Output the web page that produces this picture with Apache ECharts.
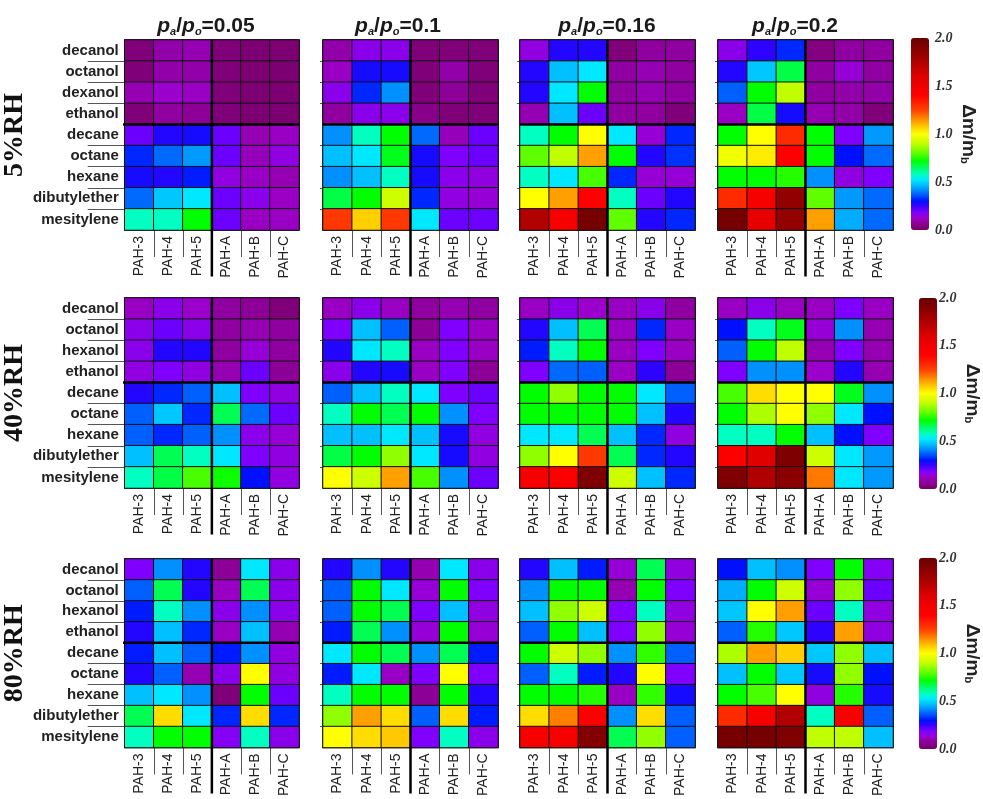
<!DOCTYPE html>
<html><head><meta charset="utf-8">
<script src="https://cdn.jsdelivr.net/npm/echarts@6/dist/echarts.min.js"></script>
<style>html,body{margin:0;padding:0;background:#fff}#c{width:983px;height:799px}</style>
</head><body><div id="c"></div>
<script>
// ---------- categories ----------
const pahLinear = ['PAH-3', 'PAH-4', 'PAH-5'];
const pahBranched = ['PAH-A', 'PAH-B', 'PAH-C'];
const alcohols5 = ['decanol', 'octanol', 'dexanol', 'ethanol'];
const alcohols = ['decanol', 'octanol', 'hexanol', 'ethanol'];
const others = ['decane', 'octane', 'hexane', 'dibutylether', 'mesitylene'];
const humidity = ['5%RH', '40%RH', '80%RH'];
const pressure = ['0.05', '0.1', '0.16', '0.2'];
const colorTicks = [0, 0.5, 1.0, 1.5, 2.0];

// ---------- values (rows: solvents, cols: PAH-3..PAH-C) ----------
const rh5_p005 = [
  [0.03,0.09,0.10,0.03,0.02,0.02],
  [0.03,0.09,0.09,0.03,0.02,0.02],
  [0.10,0.13,0.12,0.03,0.02,0.02],
  [0.03,0.08,0.07,0.03,0.02,0.02],
  [0.20,0.27,0.28,0.20,0.10,0.12],
  [0.32,0.38,0.43,0.20,0.11,0.15],
  [0.28,0.27,0.31,0.15,0.12,0.10],
  [0.38,0.48,0.52,0.20,0.16,0.12],
  [0.58,0.58,0.72,0.20,0.12,0.12]];
const rh5_p01 = [
  [0.09,0.16,0.16,0.03,0.03,0.03],
  [0.12,0.28,0.28,0.03,0.09,0.03],
  [0.16,0.32,0.42,0.03,0.07,0.03],
  [0.08,0.16,0.16,0.05,0.03,0.03],
  [0.42,0.58,0.72,0.38,0.11,0.20],
  [0.47,0.52,0.70,0.28,0.18,0.20],
  [0.42,0.47,0.58,0.28,0.16,0.15],
  [0.67,0.72,0.92,0.32,0.15,0.14],
  [1.27,1.07,1.27,0.52,0.20,0.20]];
const rh5_p016 = [
  [0.15,0.27,0.27,0.03,0.08,0.08],
  [0.27,0.47,0.52,0.08,0.10,0.08],
  [0.27,0.52,0.72,0.08,0.10,0.08],
  [0.10,0.47,0.20,0.08,0.08,0.03],
  [0.58,0.72,1.00,0.52,0.14,0.32],
  [0.80,0.90,1.13,0.72,0.27,0.33],
  [0.58,0.52,0.78,0.32,0.14,0.14],
  [1.00,1.13,1.40,0.58,0.20,0.27],
  [1.75,1.45,1.95,0.80,0.27,0.32]];
const rh5_p02 = [
  [0.16,0.26,0.32,0.04,0.08,0.08],
  [0.27,0.48,0.67,0.08,0.14,0.08],
  [0.37,0.72,0.90,0.08,0.09,0.09],
  [0.12,0.67,0.28,0.10,0.09,0.03],
  [0.72,1.00,1.30,0.72,0.18,0.43],
  [0.98,1.03,1.42,0.72,0.30,0.38],
  [0.72,0.72,0.75,0.42,0.15,0.18],
  [1.30,1.45,1.85,0.80,0.43,0.38],
  [1.95,1.55,1.85,1.13,0.45,0.38]];

const rh40_p005 = [
  [0.12,0.16,0.13,0.08,0.07,0.03],
  [0.16,0.20,0.16,0.08,0.10,0.08],
  [0.16,0.27,0.27,0.08,0.14,0.08],
  [0.15,0.18,0.15,0.10,0.20,0.07],
  [0.27,0.32,0.37,0.47,0.18,0.15],
  [0.37,0.48,0.32,0.66,0.38,0.20],
  [0.37,0.32,0.37,0.42,0.16,0.14],
  [0.47,0.66,0.58,0.52,0.18,0.15],
  [0.58,0.67,0.78,0.73,0.30,0.15]];
const rh40_p01 = [
  [0.12,0.16,0.12,0.08,0.10,0.08],
  [0.18,0.47,0.37,0.07,0.18,0.12],
  [0.27,0.52,0.58,0.12,0.18,0.12],
  [0.16,0.27,0.28,0.12,0.18,0.07],
  [0.37,0.47,0.58,0.52,0.18,0.20],
  [0.58,0.72,0.66,0.72,0.42,0.18],
  [0.47,0.47,0.52,0.47,0.28,0.15],
  [0.67,0.72,0.85,0.52,0.28,0.15],
  [1.00,0.92,1.13,0.78,0.42,0.20]];
const rh40_p016 = [
  [0.12,0.16,0.13,0.12,0.16,0.08],
  [0.27,0.47,0.66,0.12,0.32,0.12],
  [0.31,0.58,0.72,0.12,0.18,0.12],
  [0.18,0.38,0.37,0.12,0.26,0.07],
  [0.72,0.85,0.72,0.72,0.52,0.37],
  [0.72,0.72,0.72,0.72,0.47,0.27],
  [0.52,0.52,0.66,0.47,0.32,0.15],
  [0.85,1.00,1.27,0.66,0.32,0.27],
  [1.45,1.42,1.92,0.92,0.47,0.32]];
const rh40_p02 = [
  [0.12,0.16,0.12,0.12,0.18,0.12],
  [0.30,0.58,0.70,0.14,0.42,0.10],
  [0.37,0.72,0.90,0.10,0.18,0.10],
  [0.18,0.42,0.42,0.13,0.27,0.10],
  [0.78,1.05,1.00,1.00,0.70,0.42],
  [0.72,0.88,1.00,0.85,0.52,0.30],
  [0.58,0.58,0.72,0.47,0.30,0.18],
  [1.42,1.60,1.92,0.92,0.52,0.43],
  [1.92,1.75,1.88,1.18,0.52,0.43]];

const rh80_p005 = [
  [0.18,0.42,0.27,0.07,0.52,0.16],
  [0.37,0.66,0.27,0.12,0.66,0.16],
  [0.31,0.58,0.42,0.16,0.42,0.16],
  [0.27,0.47,0.32,0.12,0.47,0.10],
  [0.31,0.47,0.37,0.31,0.42,0.15],
  [0.27,0.37,0.10,0.16,1.00,0.15],
  [0.47,0.52,0.42,0.03,0.72,0.20],
  [0.66,1.05,0.52,0.32,1.05,0.32],
  [0.58,0.72,0.72,0.17,0.58,0.16]];
const rh80_p01 = [
  [0.27,0.42,0.27,0.10,0.52,0.16],
  [0.37,0.72,0.52,0.14,0.72,0.18],
  [0.37,0.72,0.66,0.18,0.47,0.15],
  [0.31,0.66,0.42,0.14,0.72,0.14],
  [0.52,0.72,0.66,0.42,0.66,0.31],
  [0.31,0.52,0.12,0.18,1.00,0.18],
  [0.58,0.72,0.72,0.07,0.72,0.27],
  [0.85,1.13,1.05,0.37,1.05,0.31],
  [1.00,1.05,1.08,0.18,0.58,0.16]];
const rh80_p016 = [
  [0.27,0.47,0.31,0.14,0.66,0.15],
  [0.42,0.72,0.72,0.10,0.72,0.18],
  [0.47,0.85,0.92,0.18,0.58,0.15],
  [0.37,0.72,0.47,0.18,0.85,0.14],
  [0.72,0.92,0.85,0.42,0.76,0.37],
  [0.37,0.58,0.31,0.27,1.00,0.18],
  [0.72,0.72,0.75,0.12,0.76,0.28],
  [1.05,1.17,1.42,0.42,1.05,0.37],
  [1.45,1.45,1.90,0.66,0.85,0.37]];
const rh80_p02 = [
  [0.30,0.47,0.42,0.18,0.72,0.17],
  [0.45,0.72,0.92,0.14,0.85,0.20],
  [0.48,1.00,1.13,0.20,0.58,0.15],
  [0.37,0.75,0.48,0.26,1.13,0.15],
  [0.88,1.13,1.07,0.48,0.85,0.47],
  [0.47,0.72,0.48,0.28,0.85,0.30],
  [0.72,0.78,1.00,0.15,0.75,0.28],
  [1.30,1.45,1.75,0.58,1.45,0.37],
  [1.95,1.95,1.92,0.90,0.90,0.47]];

const matrices = [
  [rh5_p005, rh5_p01, rh5_p016, rh5_p02],
  [rh40_p005, rh40_p01, rh40_p016, rh40_p02],
  [rh80_p005, rh80_p01, rh80_p016, rh80_p02]];

// ---------- colour map (style) ----------
const cmapStops = [[0.00,'#760062'],[0.08,'#9000a0'],[0.13,'#9c00cc'],[0.18,'#8000ff'],[0.25,'#3800ff'],
  [0.30,'#0010ff'],[0.37,'#0060ff'],[0.42,'#0090ff'],[0.47,'#00c0ff'],[0.52,'#00e8ff'],[0.58,'#00ffc0'],
  [0.65,'#00ff60'],[0.72,'#00ff00'],[0.80,'#60ff00'],[0.90,'#c0ff00'],[1.00,'#ffff00'],[1.07,'#ffd000'],
  [1.13,'#ffa000'],[1.25,'#ff4000'],[1.40,'#ff0000'],[1.60,'#e00000'],[1.80,'#a00000'],[2.00,'#680000']];
function hex2rgb(h){return [parseInt(h.substr(1,2),16),parseInt(h.substr(3,2),16),parseInt(h.substr(5,2),16)];}
function cmapAt(v){
  for (let i=1;i<cmapStops.length;i++){
    if (v<=cmapStops[i][0]+1e-9){
      const a=cmapStops[i-1], b=cmapStops[i], t=(v-a[0])/(b[0]-a[0]);
      const ca=hex2rgb(a[1]), cb=hex2rgb(b[1]);
      return 'rgb('+ca.map((x,k)=>Math.round(x+(cb[k]-x)*t)).join(',')+')';
    }
  }
  return cmapStops[cmapStops.length-1][1];
}
const cmap=[]; for(let i=0;i<=200;i++) cmap.push(cmapAt(i/100));

// ---------- layout (style) ----------
const GL=[124,323,520,718], GT=[40,298,559], GW=175, GH=190;
const CBL=[911,919,919], CBT=[38,298,558], CBW=18, CBH=[192,191,191];
const TCX=[206,398,607,795];

const pahs = pahLinear.concat(pahBranched);
const solventsByRow = [alcohols5.concat(others), alcohols.concat(others), alcohols.concat(others)];

const grid=[], xAxis=[], yAxis=[], series=[], visualMap=[], title=[];
const heatIdx=[[],[],[]];
const labFont='Liberation Sans';

for (let r=0;r<3;r++){
  const solv = solventsByRow[r];
  for (let c=0;c<4;c++){
    const g=r*4+c, m=matrices[r][c];
    grid.push({left:GL[c], top:GT[r], width:GW, height:GH, show:true, borderColor:'#000', borderWidth:1.5, backgroundColor:'transparent'});
    xAxis.push({type:'category', gridIndex:g, data:pahs, position:'bottom',
      axisLine:{show:false}, axisTick:{show:false}, splitLine:{show:false},
      axisLabel:{interval:0, rotate:90, margin:6, fontSize:14, color:'#222', fontFamily:labFont}});
    const xb=[]; for(let i=1;i<pahs.length;i++) if(i!==pahLinear.length) xb.push(i);
    xAxis.push({type:'value', gridIndex:g, min:0, max:pahs.length, interval:1, position:'bottom',
      axisLine:{show:false}, axisLabel:{show:false}, splitLine:{show:false},
      axisTick:{show:true, customValues:xb, length:27, lineStyle:{color:'#555', width:1}}});
    yAxis.push({type:'category', gridIndex:g, data:solv, inverse:true, position:'left',
      axisLine:{show:false}, axisTick:{show:false}, splitLine:{show:false},
      axisLabel:{show:c===0, interval:0, margin:6, fontSize:15, fontWeight:'bold', color:'#222', fontFamily:labFont},
      name: c===0 ? humidity[r] : '', nameLocation:'middle', nameRotate:90, nameGap:79,
      nameTextStyle:{fontFamily:'Liberation Serif', fontWeight:'bold', fontSize:28, color:'#111'}});
    const yb=[]; for(let i=1;i<solv.length;i++) if(i!==alcohols.length) yb.push(i);
    yAxis.push({type:'value', gridIndex:g, min:0, max:solv.length, interval:1, inverse:true, position:'left',
      axisLine:{show:false}, axisLabel:{show:false}, splitLine:{show:false},
      axisTick:{show:true, customValues:yb, length: c===0?37:3, lineStyle:{color:'#555', width:1}}});
    const data=[];
    for (let yi=0;yi<solv.length;yi++) for (let xi=0;xi<pahs.length;xi++) data.push([xi, yi, m[yi][xi]]);
    heatIdx[r].push(series.length);
    series.push({type:'heatmap', xAxisIndex:2*g, yAxisIndex:2*g, data:data,
      itemStyle:{borderColor:'#111', borderWidth:1}, emphasis:{disabled:true}, silent:true, animation:false});
    // group dividers
    series.push({type:'line', xAxisIndex:2*g+1, yAxisIndex:2*g+1, clip:false, showSymbol:false, silent:true, animation:false, z:5,
      lineStyle:{color:'#000', width:2.5},
      data:[[pahLinear.length, 0],[pahLinear.length, solv.length+2.2]]});
    series.push({type:'line', xAxisIndex:2*g+1, yAxisIndex:2*g+1, clip:false, showSymbol:false, silent:true, animation:false, z:5,
      lineStyle:{color:'#000', width:2.5},
      data:[[c===0?-2.0:0, alcohols.length],[pahs.length, alcohols.length]]});
  }
}

// colour bars
for (let r=0;r<3;r++){
  const g=12+r;
  grid.push({left:CBL[r], top:CBT[r], width:CBW, height:CBH[r], show:false});
  xAxis.push({type:'value', gridIndex:g, show:false, min:0, max:1});
  yAxis.push({type:'value', gridIndex:g, min:colorTicks[0], max:colorTicks[colorTicks.length-1], interval:colorTicks[1]-colorTicks[0], position:'right',
    axisLine:{show:false}, axisTick:{show:false}, splitLine:{show:false},
    axisLabel:{formatter:v=>v.toFixed(1), margin:6, fontFamily:'Liberation Serif', fontStyle:'italic', fontWeight:'bold', fontSize:14, color:'#333'},
    name:'{m|Δm/m}{s|b}', nameLocation:'middle', nameRotate:-90, nameGap:30,
    nameTextStyle:{rich:{
      m:{fontFamily:labFont, fontWeight:'bold', fontSize:19, color:'#222', lineHeight:22, verticalAlign:'bottom'},
      s:{fontFamily:labFont, fontWeight:'bold', fontSize:11, color:'#222', lineHeight:12, verticalAlign:'bottom'}}}});
  visualMap.push({type:'continuous', min:0, max:2, seriesIndex:heatIdx[r], inRange:{color:cmap},
    left:CBL[r], top:CBT[r], itemWidth:CBW, itemHeight:CBH[r], orient:'vertical', calculable:false, padding:0,
    hoverLink:false, text:null, showLabel:false});
}

// column titles
const titleRich = {
  p:{fontFamily:labFont, fontSize:21, fontWeight:'bold', fontStyle:'italic', color:'#1a1a1a', lineHeight:24, verticalAlign:'bottom'},
  s:{fontFamily:labFont, fontSize:11, fontStyle:'italic', color:'#1a1a1a', lineHeight:12, verticalAlign:'bottom'},
  n:{fontFamily:labFont, fontSize:21, fontWeight:'bold', color:'#1a1a1a', lineHeight:24, verticalAlign:'bottom'}};
for (let c=0;c<4;c++){
  title.push({text:'{p|p}{s|a}{n|/}{p|p}{s|o}{n|='+pressure[c]+'}', left:TCX[c], top:13, textAlign:'center', padding:0,
    textStyle:{rich:titleRich}});
}

const chart = echarts.init(document.getElementById('c'), null, {renderer:'canvas'});
chart.setOption({animation:false, backgroundColor:'#fff', title, grid, xAxis, yAxis, visualMap, series});
</script></body></html>
